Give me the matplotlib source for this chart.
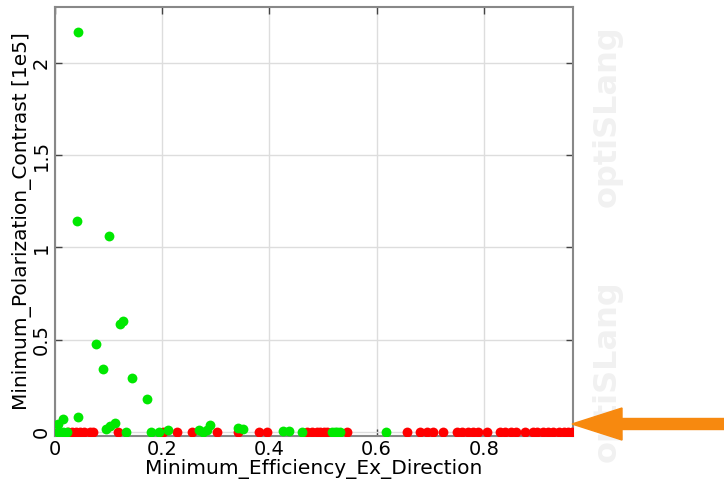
import matplotlib
matplotlib.use('Agg')
import matplotlib.pyplot as plt
from matplotlib.patches import Polygon

# design points: x = Minimum_Efficiency_Ex_Direction, y = Minimum_Polarization_Contrast [1e5]
green_x = [0.043, 0.041, 0.101, 0.127, 0.121, 0.076, 0.090, 0.144, 0.172, 0.043,
           0.015, 0.006, 0.112, 0.103, 0.095, 0.289, 0.341, 0.350, 0.211, 0.006,
           0.015, 0.022, 0.132, 0.179, 0.194, 0.269, 0.276, 0.283, 0.425, 0.437,
           0.460, 0.517, 0.522, 0.527, 0.532, 0.617]
green_y = [2.167, 1.143, 1.062, 0.601, 0.585, 0.477, 0.341, 0.293, 0.179, 0.080,
           0.072, 0.040, 0.048, 0.032, 0.016, 0.038, 0.020, 0.016, 0.010, 0.0,
           0.0, 0.0, 0.0, 0.0, 0.0, 0.008, 0.0, 0.012, 0.003, 0.003,
           0.0, 0.0, 0.0, 0.0, 0.0, 0.0]

red_x = [0.025, 0.032, 0.040, 0.047, 0.055, 0.065, 0.071, 0.118, 0.201, 0.227,
         0.255, 0.302, 0.341, 0.381, 0.395, 0.470, 0.480, 0.488, 0.495, 0.502,
         0.507, 0.545, 0.657, 0.681, 0.694, 0.705, 0.724, 0.750, 0.760, 0.770,
         0.780, 0.790, 0.806, 0.830, 0.840, 0.850, 0.860, 0.877, 0.892, 0.900,
         0.910, 0.920, 0.930, 0.940, 0.950, 0.958, 0.965]
red_y = [0.0] * len(red_x)

x_ticks = [0, 0.2, 0.4, 0.6, 0.8]
x_tick_labels = ['0', '0.2', '0.4', '0.6', '0.8']
y_ticks = [0, 0.5, 1, 1.5, 2]
y_tick_labels = ['0', '0.5', '1', '1.5', '2']

fig = plt.figure(figsize=(7.24, 4.87), dpi=100)
ax = fig.add_axes([0.076, 0.105, 0.715, 0.881])

ax.scatter(red_x, red_y, s=50, color='#ff0000', linewidths=0, zorder=3)
ax.scatter(green_x, green_y, s=50, color='#00e800', linewidths=0, zorder=4)

ax.set_xlim(0, 0.966)
ax.set_ylim(-0.022, 2.304)
ax.set_xticks(x_ticks)
ax.set_xticklabels(x_tick_labels)
ax.set_yticks(y_ticks)
ax.set_yticklabels(y_tick_labels, rotation=90, va='center')

ax.grid(True, color='#dddddd', linewidth=1)
ax.set_axisbelow(True)
ax.tick_params(direction='in', length=5, width=1, color='#444444', labelsize=14,
               top=True, right=True, pad=3)
for sp in ax.spines.values():
    sp.set_color('#888888')
    sp.set_linewidth(1.5)

ax.set_xlabel('Minimum_Efficiency_Ex_Direction', fontsize=14.5, labelpad=0)
ax.set_ylabel('Minimum_Polarization_Contrast [1e5]', fontsize=14.5, labelpad=0)

# watermark
for yc in [0.762, 0.238]:
    fig.text(0.838, yc, 'optiSLang', rotation=90, fontsize=23, fontweight='bold',
             color='#f1f1f1', ha='center', va='center', zorder=0)

# orange arrow (inches)
arrow = Polygon([(5.72, 0.63), (6.22, 0.79), (6.22, 0.685), (7.24, 0.685),
                 (7.24, 0.575), (6.22, 0.575), (6.22, 0.47)],
                closed=True, color='#f7890f', transform=fig.dpi_scale_trans,
                clip_on=False, zorder=10)
fig.add_artist(arrow)

fig.savefig('out.png', dpi=100)
